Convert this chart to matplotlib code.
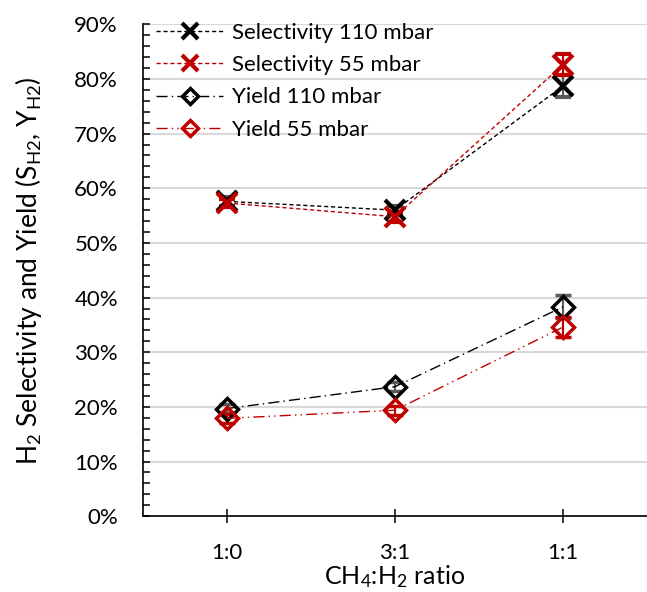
import numpy as np
import matplotlib.pyplot as plt
from matplotlib.lines import Line2D
from matplotlib.ticker import PercentFormatter, MultipleLocator

plt.rcParams['font.family'] = ['Lato', 'DejaVu Sans']
plt.rcParams['mathtext.default'] = 'regular'

# Données
ratios = ["1:0", "3:1", "1:1"]
sel_110 = [57.6, 56.0, 78.7]
sel_55 = [57.3, 54.8, 82.6]
yield_110 = [19.7, 23.7, 38.3]
yield_55 = [17.9, 19.4, 34.6]
err_sel_110 = [0.8, 0.8, 2.0]
err_sel_55 = [0.8, 0.9, 1.9]
err_yield_110 = [0.8, 0.8, 2.1]
err_yield_55 = [0.8, 0.8, 1.9]

red = "#C00000"
x = np.arange(len(ratios))

# Styles des séries
series = [
    ("Selectivity 110 mbar", sel_110, err_sel_110, "black", "#595959", (0, (3, 2)), "x"),
    ("Selectivity 55 mbar", sel_55, err_sel_55, red, red, (0, (3, 2)), "x"),
    ("Yield 110 mbar", yield_110, err_yield_110, "black", "#595959", (0, (8, 3, 1, 3)), "D"),
    ("Yield 55 mbar", yield_55, err_yield_55, red, red, (0, (8, 3, 1, 3, 1, 3)), "D"),
]

fig = plt.figure(figsize=(6.47, 5.92), dpi=100)
ax = fig.add_axes([0.221, 0.128, 0.779, 0.831])

handles = []
for label, y, err, col, ecol, ls, mk in series:
    if mk == "x":
        mstyle = dict(marker="x", markeredgewidth=3, color=col)
        ms, ms_leg = 14, 11
    else:
        mstyle = dict(marker="D", markeredgewidth=2.5,
                      markerfacecolor="none", markeredgecolor=col, color=col)
        ms, ms_leg = 11, 8.5
    ax.errorbar(x, y, yerr=err, linestyle=ls, linewidth=1, ecolor=ecol, markersize=ms,
                capsize=5.5, capthick=1.5, elinewidth=1.5, zorder=3, **mstyle)
    handles.append(Line2D([], [], linestyle=ls, linewidth=1, markersize=ms_leg,
                          label=label, **mstyle))

ax.set_xlim(-0.5, 2.5)
ax.set_ylim(0, 90)
ax.set_xticks(x)
ax.set_xticklabels(ratios)
ax.yaxis.set_major_locator(MultipleLocator(10))
ax.yaxis.set_minor_locator(MultipleLocator(2))
ax.yaxis.set_major_formatter(PercentFormatter(decimals=0))
ax.tick_params(axis="y", which="both", direction="in", labelsize=16, length=5, width=1.1, pad=18)
ax.tick_params(axis="x", direction="inout", labelsize=16, length=10, width=1.1, pad=14)

ax.grid(axis="y", color="#D9D9D9", linewidth=1.5, zorder=0)
ax.set_axisbelow(True)
for s in ["top", "right"]:
    ax.spines[s].set_visible(False)
for s in ["left", "bottom"]:
    ax.spines[s].set_linewidth(1.2)

ax.set_xlabel("CH$_4$:H$_2$ ratio", fontsize=18, labelpad=0)
ax.set_ylabel("H$_2$ Selectivity and Yield (S$_{H2}$, Y$_{H2}$)", fontsize=19, labelpad=22)

ax.legend(handles=handles, loc="upper left", bbox_to_anchor=(0.0, 1.03), frameon=False,
          fontsize=16, handlelength=3.0, labelspacing=0.55, handletextpad=0.4,
          borderaxespad=0.2)

plt.savefig("out.png", dpi=100)
